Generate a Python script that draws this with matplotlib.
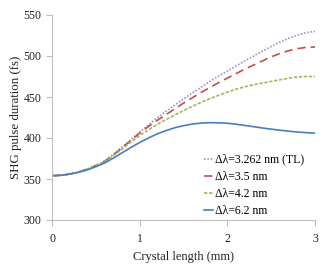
import matplotlib
matplotlib.use("Agg")
import matplotlib.pyplot as plt

x_mm = [0.0, 0.1, 0.2, 0.3, 0.4, 0.5, 0.6, 0.7, 0.8, 0.9, 1.0,
        1.1, 1.2, 1.3, 1.4, 1.5, 1.6, 1.7, 1.8, 1.9, 2.0,
        2.1, 2.2, 2.3, 2.4, 2.5, 2.6, 2.7, 2.8, 2.9, 3.0]
tl_3262 = [354, 354.5, 356, 358.5, 362, 366.5, 372, 380, 389, 398, 407,
           416, 424.5, 432.5, 440, 447.5, 455, 462, 469, 475.5, 481.5,
           488, 494, 500, 506, 511.5, 517, 521.5, 525.5, 528.5, 530]
dl_35 = [354, 354.5, 356, 358.5, 362, 366.5, 371.5, 379.5, 388, 397, 406,
         414, 421.5, 428.5, 435.5, 442.5, 449, 455.5, 461.5, 467.5, 473,
         478.5, 484, 489, 494, 499, 503, 506.5, 509, 510.5, 511]
dl_42 = [354, 354.5, 356, 358.5, 362, 366.5, 371, 378.5, 386.5, 395, 403,
         410, 416.5, 422.5, 428, 433.5, 438.5, 443.5, 448, 452, 456,
         459.5, 462.5, 465, 467, 469, 471, 473, 474.5, 475, 475]
dl_62 = [354, 354.5, 356, 358, 361, 365, 369.5, 375.5, 382, 388.5, 394.5,
         400, 405, 409, 412.5, 415, 417, 418.2, 418.7, 418.5, 418,
         416.8, 415.3, 413.8, 412.2, 410.8, 409.5, 408.3, 407.3, 406.5, 406]

labels = ["Δλ=3.262 nm (TL)", "Δλ=3.5 nm", "Δλ=4.2 nm", "Δλ=6.2 nm"]
colors = ["#A48FCB", "#C0504D", "#9BBB59", "#4A7EBB"]
styles = [(0, (1, 1)), (0, (5, 3)), (0, (2, 1)), "-"]
yticks = [300, 350, 400, 450, 500, 550]
xticks = [0, 1, 2, 3]

plt.rcParams['font.family'] = ['Liberation Serif', 'DejaVu Serif']
fig = plt.figure(figsize=(3.27, 2.73), dpi=100)
ax = fig.add_axes([52/327, 1 - 220/273, (315 - 52)/327, (220 - 15)/273])

series = [tl_3262, dl_35, dl_42, dl_62]
for s, lab, c, ls in zip(series, labels, colors, styles):
    ax.plot(x_mm, s, color=c, linestyle=ls, linewidth=1.2, label=lab)

ax.set_xlim(0, 3)
ax.set_ylim(300, 550)
ax.set_xticks(xticks)
ax.set_yticks(yticks)
for sp in ["top", "right"]:
    ax.spines[sp].set_visible(False)
for sp in ["left", "bottom"]:
    ax.spines[sp].set_color("#BFBFBF")
    ax.spines[sp].set_linewidth(0.8)
ax.tick_params(axis="both", colors="#BFBFBF", labelcolor="#222222", labelsize=8.5,
               length=4, width=0.8, direction="out")
ax.tick_params(axis="x", pad=5)
ax.set_xlabel("Crystal length (mm)", fontsize=9, color="#222222", labelpad=5)
ax.set_ylabel("SHG pulse duration (fs)", fontsize=9.3, color="#222222", labelpad=1)

leg = ax.legend(loc="upper left", bbox_to_anchor=(0.548, 0.364), frameon=False,
                fontsize=8.5, handlelength=0.75, handletextpad=0.15,
                labelspacing=0.44, borderpad=0.2)

fig.savefig("out.png", dpi=100)
